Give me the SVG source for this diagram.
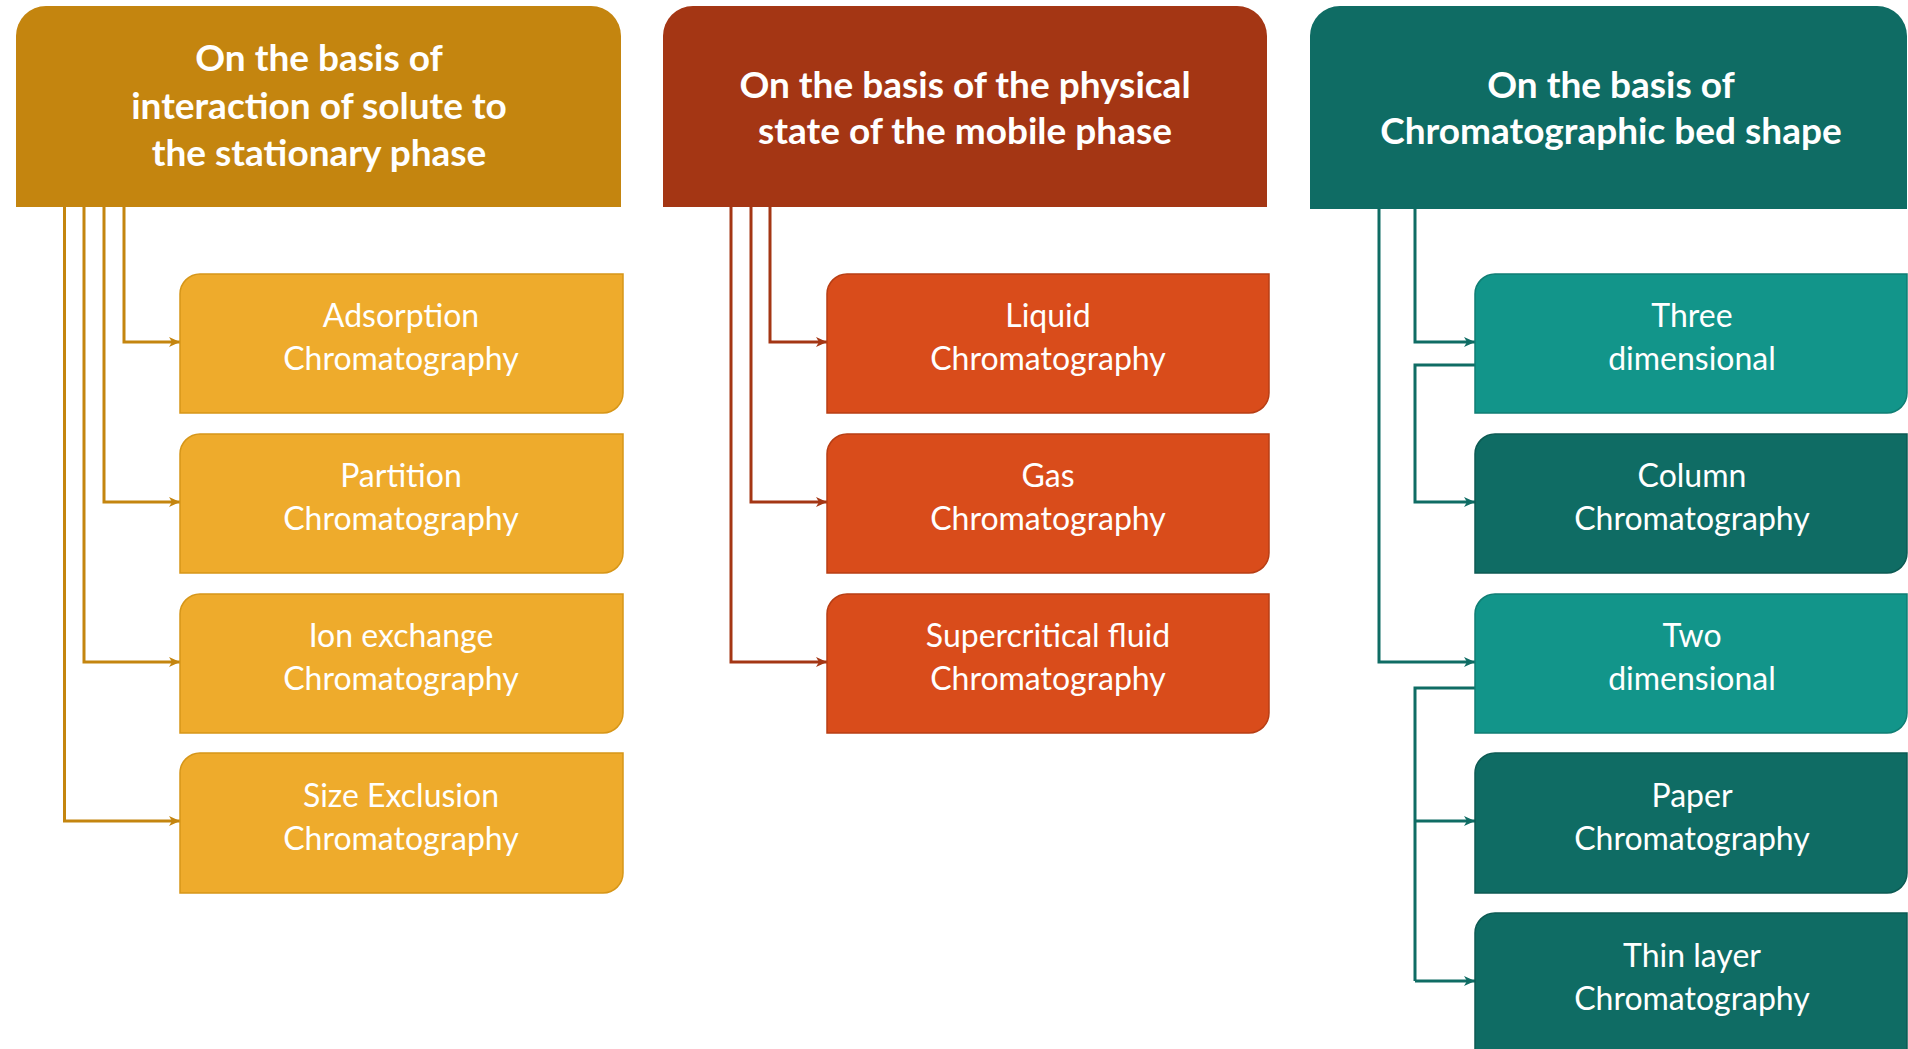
<svg xmlns="http://www.w3.org/2000/svg" width="1908" height="1049" viewBox="0 0 1908 1049">
<style>
.hd{font-family:Lato,"Liberation Sans",sans-serif;font-weight:bold;font-size:37px;fill:#fff;text-anchor:middle}
.tx{font-family:Lato,"Liberation Sans",sans-serif;font-size:32px;fill:#fff;text-anchor:middle}
.c1{fill:none;stroke:#C4850F;stroke-width:3;marker-end:url(#a1)}
.c2{fill:none;stroke:#A43614;stroke-width:3;marker-end:url(#a2)}
.c3{fill:none;stroke:#0F6C64;stroke-width:3}
.c3a{fill:none;stroke:#0F6C64;stroke-width:3;marker-end:url(#a3)}
.b1{fill:#EEAB2C;stroke:#D69619;stroke-width:1.5}
.b2{fill:#D94C1B;stroke:#B83E14;stroke-width:1.5}
.b3l{fill:#12958A;stroke:#0F7E74;stroke-width:1.5}
.b3d{fill:#0F6C64;stroke:#0C5A53;stroke-width:1.5}
</style>
<defs>
<marker id="a1" markerUnits="userSpaceOnUse" markerWidth="12" markerHeight="10" refX="11" refY="5" orient="auto"><path d="M0,0 L11,5 L0,10 L3,5 Z" fill="#C4850F"/></marker>
<marker id="a2" markerUnits="userSpaceOnUse" markerWidth="12" markerHeight="10" refX="11" refY="5" orient="auto"><path d="M0,0 L11,5 L0,10 L3,5 Z" fill="#A43614"/></marker>
<marker id="a3" markerUnits="userSpaceOnUse" markerWidth="12" markerHeight="10" refX="11" refY="5" orient="auto"><path d="M0,0 L11,5 L0,10 L3,5 Z" fill="#0F6C64"/></marker>
</defs>
<rect width="1908" height="1049" fill="#fff"/>

<g id="connectors">
<path class="c1" d="M124,207 V342 H180"/>
<path class="c1" d="M104,207 V502 H180"/>
<path class="c1" d="M84,207 V662 H180"/>
<path class="c1" d="M64.5,207 V821 H180"/>
<path class="c2" d="M770,207 V342 H827"/>
<path class="c2" d="M751,207 V502 H827"/>
<path class="c2" d="M731,207 V662 H827"/>
<path class="c3a" d="M1415,209 V342 H1475"/>
<path class="c3a" d="M1379,209 V662 H1475"/>
<path class="c3a" d="M1475,365 H1415 V502 H1475"/>
<path class="c3" d="M1475,688 H1415 V981"/>
<path class="c3a" d="M1415,821 H1475"/>
<path class="c3a" d="M1415,981 H1475"/>
</g>

<g id="h1">
<path d="M16,207 V36 A30,30 0 0 1 46,6 H591 A30,30 0 0 1 621,36 V207 Z" fill="#C4850F"/>
<text class="hd" x="319" y="71">On the basis of</text>
<text class="hd" x="319" y="119">interaction of solute to</text>
<text class="hd" x="319" y="166">the stationary phase</text>
</g>
<g id="h2">
<path d="M663,207 V36 A30,30 0 0 1 693,6 H1237 A30,30 0 0 1 1267,36 V207 Z" fill="#A43614"/>
<text class="hd" x="965" y="98">On the basis of the physical</text>
<text class="hd" x="965" y="144">state of the mobile phase</text>
</g>
<g id="h3">
<path d="M1310,209 V36 A30,30 0 0 1 1340,6 H1877 A30,30 0 0 1 1907,36 V209 Z" fill="#0F6C64"/>
<text class="hd" x="1611" y="98">On the basis of</text>
<text class="hd" x="1611" y="144">Chromatographic bed shape</text>
</g>

<g id="n-adsorption">
<path class="b1" d="M180,413 V294 A20,20 0 0 1 200,274 H623 V393 A20,20 0 0 1 603,413 Z"/>
<text class="tx" x="401" y="327">Adsorption</text>
<text class="tx" x="401" y="370">Chromatography</text>
</g>
<g id="n-partition">
<path class="b1" d="M180,573 V454 A20,20 0 0 1 200,434 H623 V553 A20,20 0 0 1 603,573 Z"/>
<text class="tx" x="401" y="487">Partition</text>
<text class="tx" x="401" y="530">Chromatography</text>
</g>
<g id="n-ion">
<path class="b1" d="M180,733 V614 A20,20 0 0 1 200,594 H623 V713 A20,20 0 0 1 603,733 Z"/>
<text class="tx" x="401" y="647">Ion exchange</text>
<text class="tx" x="401" y="690">Chromatography</text>
</g>
<g id="n-size">
<path class="b1" d="M180,893 V773 A20,20 0 0 1 200,753 H623 V873 A20,20 0 0 1 603,893 Z"/>
<text class="tx" x="401" y="807">Size Exclusion</text>
<text class="tx" x="401" y="850">Chromatography</text>
</g>

<g id="n-liquid">
<path class="b2" d="M827,413 V294 A20,20 0 0 1 847,274 H1269 V393 A20,20 0 0 1 1249,413 Z"/>
<text class="tx" x="1048" y="327">Liquid</text>
<text class="tx" x="1048" y="370">Chromatography</text>
</g>
<g id="n-gas">
<path class="b2" d="M827,573 V454 A20,20 0 0 1 847,434 H1269 V553 A20,20 0 0 1 1249,573 Z"/>
<text class="tx" x="1048" y="487">Gas</text>
<text class="tx" x="1048" y="530">Chromatography</text>
</g>
<g id="n-supercritical">
<path class="b2" d="M827,733 V614 A20,20 0 0 1 847,594 H1269 V713 A20,20 0 0 1 1249,733 Z"/>
<text class="tx" x="1048" y="647">Supercritical fluid</text>
<text class="tx" x="1048" y="690">Chromatography</text>
</g>

<g id="n-three">
<path class="b3l" d="M1475,413 V294 A20,20 0 0 1 1495,274 H1907 V393 A20,20 0 0 1 1887,413 Z"/>
<text class="tx" x="1692" y="327">Three</text>
<text class="tx" x="1692" y="370">dimensional</text>
</g>
<g id="n-column">
<path class="b3d" d="M1475,573 V454 A20,20 0 0 1 1495,434 H1907 V553 A20,20 0 0 1 1887,573 Z"/>
<text class="tx" x="1692" y="487">Column</text>
<text class="tx" x="1692" y="530">Chromatography</text>
</g>
<g id="n-two">
<path class="b3l" d="M1475,733 V614 A20,20 0 0 1 1495,594 H1907 V713 A20,20 0 0 1 1887,733 Z"/>
<text class="tx" x="1692" y="647">Two</text>
<text class="tx" x="1692" y="690">dimensional</text>
</g>
<g id="n-paper">
<path class="b3d" d="M1475,893 V773 A20,20 0 0 1 1495,753 H1907 V873 A20,20 0 0 1 1887,893 Z"/>
<text class="tx" x="1692" y="807">Paper</text>
<text class="tx" x="1692" y="850">Chromatography</text>
</g>
<g id="n-thin">
<path class="b3d" d="M1475,1055 V933 A20,20 0 0 1 1495,913 H1907 V1055 Z"/>
<text class="tx" x="1692" y="967">Thin layer</text>
<text class="tx" x="1692" y="1010">Chromatography</text>
</g>
</svg>
